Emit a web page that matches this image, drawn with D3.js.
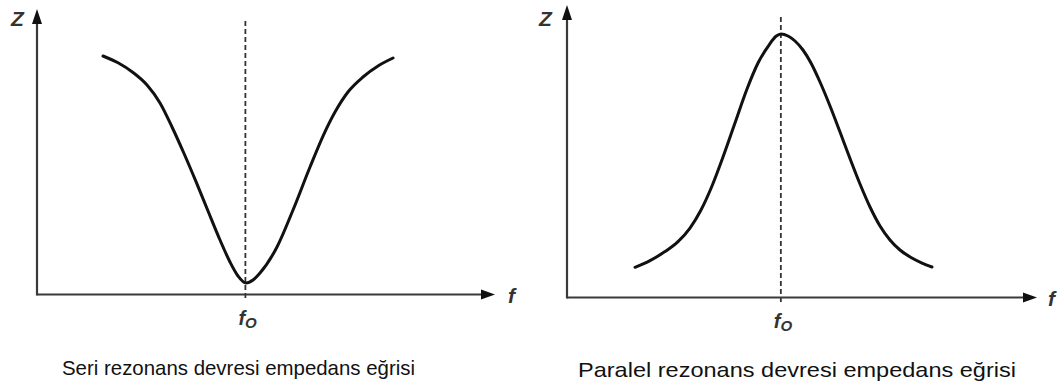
<!DOCTYPE html>
<html>
<head>
<meta charset="utf-8">
<script src="https://cdn.jsdelivr.net/npm/d3@7/dist/d3.min.js"></script>
<style>
  html, body { margin: 0; padding: 0; background: #fff; }
  svg { display: block; }
</style>
</head>
<body>
<svg id="chart" width="1059" height="387"></svg>
<script>
// ---- data (frequency f, impedance Z in arbitrary units 0..100) ----
const seriesF = [14.41, 17.69, 20.96, 24.02, 26.86, 29.48, 32.10, 34.72, 37.34, 39.96, 42.14, 43.89, 45.63,
                 47.16, 48.69, 52.40, 55.90, 59.61, 62.45, 65.07, 67.90, 71.18, 74.45, 77.73];
const seriesZ = [86.26, 83.80, 80.29, 75.77, 69.26, 60.58, 50.99, 40.80, 30.20, 19.71, 11.75, 6.69, 4.16,
                 5.24, 7.78, 17.18, 30.56, 46.11, 57.32, 66.00, 73.24, 78.66, 82.64, 85.53];
const parallelF = [14.47, 17.66, 20.85, 23.62, 26.17, 28.51, 30.85, 33.19, 35.74, 38.30, 40.64, 42.98, 44.47, 45.53,
                   47.02, 48.51, 50.21, 51.91, 53.83, 55.96, 58.09, 60.21, 62.34, 64.47, 66.60, 68.72, 70.85, 73.19, 75.53, 77.66];
const parallelZ = [10.69, 13.06, 16.25, 19.79, 24.60, 30.97, 39.47, 49.73, 61.77, 73.81, 83.01, 89.38, 92.46, 93.27,
                   92.57, 90.80, 87.61, 83.01, 76.28, 67.79, 58.58, 49.20, 40.18, 32.04, 25.31, 20.35, 16.81, 14.16, 12.21, 10.80];
const resonanceF = [45.5, 45.5];
const captions = ["Seri rezonans devresi empedans eğrisi", "Paralel rezonans devresi empedans eğrisi"];
const axisLabels = { y: "Z", x: "f", tick: "f", tickSub: "O" };

const svg = d3.select("#chart");
const axisColor = "#3a3a3a";

const panels = [
  { f: seriesF, z: seriesZ, f0: resonanceF[0], caption: captions[0],
    x0: 37, x1: 495, y0: 294.5, y1: 18, yTip: 9, zLabelX: 11, fLabelX: 508,
    capX: 238.5, capW: 353, capY: 375 },
  { f: parallelF, z: parallelZ, f0: resonanceF[1], caption: captions[1],
    x0: 567, x1: 1037, y0: 297.5, y1: 15, yTip: 5, zLabelX: 539, fLabelX: 1048,
    capX: 797, capW: 438, capY: 377 }
];

panels.forEach(p => {
  const x = d3.scaleLinear().domain([0, 100]).range([p.x0, p.x1]);
  const y = d3.scaleLinear().domain([0, 100]).range([p.y0, p.y1]);
  const g = svg.append("g");

  // dashed resonance line
  g.append("line")
    .attr("x1", x(p.f0)).attr("x2", x(p.f0))
    .attr("y1", p.yTip + 12).attr("y2", p.y0 + 6)
    .attr("stroke", "#333").attr("stroke-width", 1.8)
    .attr("stroke-dasharray", "5,3");

  // axes
  g.append("line")
    .attr("x1", p.x0).attr("x2", p.x1 - 8)
    .attr("y1", p.y0).attr("y2", p.y0)
    .attr("stroke", axisColor).attr("stroke-width", 2.2);
  g.append("line")
    .attr("x1", p.x0).attr("x2", p.x0)
    .attr("y1", p.y0 + 1).attr("y2", p.yTip + 8)
    .attr("stroke", axisColor).attr("stroke-width", 2.2);

  // arrowheads
  g.append("path")
    .attr("d", `M${p.x1},${p.y0} L${p.x1 - 14},${p.y0 - 5} L${p.x1 - 14},${p.y0 + 5} Z`)
    .attr("fill", "#111");
  g.append("path")
    .attr("d", `M${p.x0},${p.yTip} L${p.x0 - 5},${p.yTip + 15} L${p.x0 + 5},${p.yTip + 15} Z`)
    .attr("fill", "#111");

  // curve
  const pts = p.f.map((fv, i) => [fv, p.z[i]]);
  g.append("path")
    .datum(pts)
    .attr("fill", "none")
    .attr("stroke", "#111")
    .attr("stroke-width", 3)
    .attr("stroke-linecap", "round")
    .attr("stroke-linejoin", "round")
    .attr("d", d3.line().x(d => x(d[0])).y(d => y(d[1])).curve(d3.curveMonotoneX));

  // labels
  g.append("text")
    .attr("x", p.zLabelX).attr("y", 26)
    .attr("font-family", "Liberation Sans, Arial, sans-serif")
    .attr("font-size", 21).attr("font-weight", "bold").attr("font-style", "italic")
    .attr("fill", "#333")
    .text(axisLabels.y);
  g.append("text")
    .attr("x", p.fLabelX).attr("y", p.y0 + 8)
    .attr("font-family", "Liberation Sans, Arial, sans-serif")
    .attr("font-size", 21).attr("font-weight", "bold").attr("font-style", "italic")
    .attr("fill", "#333")
    .text(axisLabels.x);
  const t = g.append("text")
    .attr("x", x(p.f0) - 7).attr("y", p.y0 + 30)
    .attr("font-family", "Liberation Sans, Arial, sans-serif")
    .attr("font-size", 20).attr("font-weight", "bold").attr("font-style", "italic")
    .attr("fill", "#333");
  t.append("tspan").text(axisLabels.tick);
  t.append("tspan").attr("dy", 3).attr("font-size", 15).text(axisLabels.tickSub);

  g.append("text")
    .attr("x", p.capX - p.capW / 2).attr("y", p.capY)
    .attr("textLength", p.capW)
    .attr("lengthAdjust", "spacingAndGlyphs")
    .attr("font-family", "Liberation Sans, Arial, sans-serif")
    .attr("font-size", 21)
    .attr("fill", "#111")
    .text(p.caption);
});
</script>
</body>
</html>
